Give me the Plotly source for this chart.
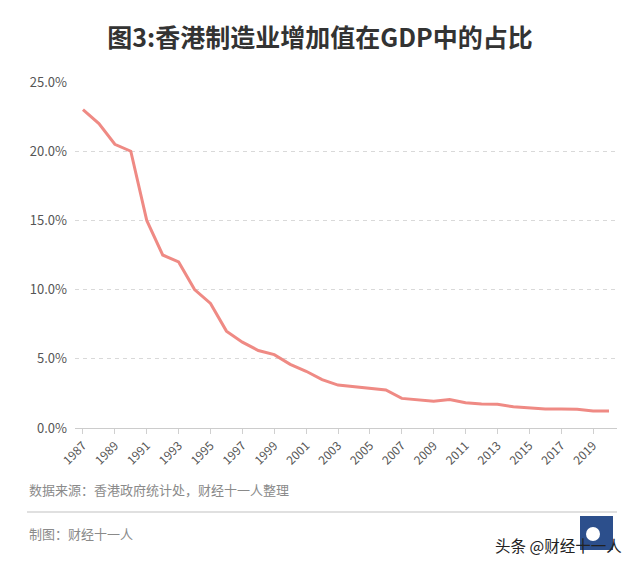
import plotly.graph_objects as go

years = [str(y) for y in range(1987, 2021)]
share = [23.0, 22.0, 20.5, 20.0, 15.0, 12.5, 12.0, 10.0, 9.0, 7.0,
         6.2, 5.6, 5.3, 4.6, 4.1, 3.5, 3.1, 3.0, 2.9, 2.75,
         2.14, 2.05, 1.93, 2.05, 1.83, 1.73, 1.71, 1.54, 1.45, 1.37,
         1.37, 1.35, 1.23, 1.23]
tick_years = [str(y) for y in range(1987, 2021, 2)]
y_ticks = [0, 5, 10, 15, 20, 25]
y_tick_text = ["0.0%", "5.0%", "10.0%", "15.0%", "20.0%", "25.0%"]

title_text = "图3:香港制造业增加值在GDP中的占比"
source_text = "数据来源：香港政府统计处，财经十一人整理"
maker_text = "制图：财经十一人"
watermark_text = "头条 @财经十一人"

FONT = "Noto Sans CJK SC"

fig = go.Figure()
fig.add_trace(go.Scatter(
    x=years, y=share, mode="lines",
    line=dict(color="#EF8A84", width=3),
    hoverinfo="x+y",
))

fig.update_layout(
    width=640, height=565,
    margin=dict(l=75, r=23, t=82, b=137),
    paper_bgcolor="white", plot_bgcolor="white",
    showlegend=False,
    font=dict(family=FONT, color="#555555", size=12),
    title=dict(text="<b>" + title_text + "</b>", x=0.5, xanchor="center",
               y=1 - 38 / 565, yanchor="middle",
               font=dict(family=FONT, size=25, color="#333333")),
    xaxis=dict(
        type="category", range=[-0.5, len(years) - 0.5],
        tickmode="array", tickvals=tick_years, ticktext=tick_years,
        tickangle=-45, ticks="outside", ticklen=5, tickcolor="#d0d0d0",
        showline=True, linecolor="#cccccc", linewidth=1,
        showgrid=False, zeroline=False,
        tickfont=dict(family=FONT, size=12, color="#555555"),
    ),
    yaxis=dict(
        range=[0, 25], tickmode="array", tickvals=y_ticks, ticktext=y_tick_text,
        showgrid=True, gridcolor="#d9d9d9", griddash="4px,4px", gridwidth=1,
        zeroline=False, showline=False, ticks="", ticklabelstandoff=7,
        tickfont=dict(family=FONT, size=13, color="#555555"),
    ),
)

fig.add_annotation(text=source_text, xref="paper", yref="paper",
                   x=-48 / 542, y=1 - (489 - 82) / 346, xanchor="left", yanchor="middle",
                   showarrow=False, font=dict(family=FONT, size=13, color="#8a8a8a"))
fig.add_shape(type="line", xref="paper", yref="paper",
              x0=-48 / 542, x1=1.0, y0=1 - (512 - 82) / 346, y1=1 - (512 - 82) / 346,
              line=dict(color="#d6d6d6", width=1.5))
fig.add_annotation(text=maker_text, xref="paper", yref="paper",
                   x=-48 / 542, y=1 - (533 - 82) / 346, xanchor="left", yanchor="middle",
                   showarrow=False, font=dict(family=FONT, size=13, color="#8a8a8a"))
# logo block
fig.add_shape(type="rect", xref="paper", yref="paper",
              x0=(580 - 75) / 542, x1=(613 - 75) / 542,
              y0=1 - (550 - 82) / 346, y1=1 - (516 - 82) / 346,
              fillcolor="#2c4f8c", line=dict(width=0))
fig.add_shape(type="circle", xref="paper", yref="paper",
              x0=(586 - 75) / 542, x1=(600 - 75) / 542,
              y0=1 - (541 - 82) / 346, y1=1 - (527 - 82) / 346,
              fillcolor="white", line=dict(width=0))
fig.add_annotation(text=watermark_text, xref="paper", yref="paper",
                   x=(624 - 75) / 542, y=1 - (545 - 82) / 346, xanchor="right", yanchor="middle",
                   showarrow=False, font=dict(family=FONT, size=15.5, color="#222222"))

fig.write_html("out.html", config={"displayModeBar": False},
               post_script="document.body.style.margin='0';")
